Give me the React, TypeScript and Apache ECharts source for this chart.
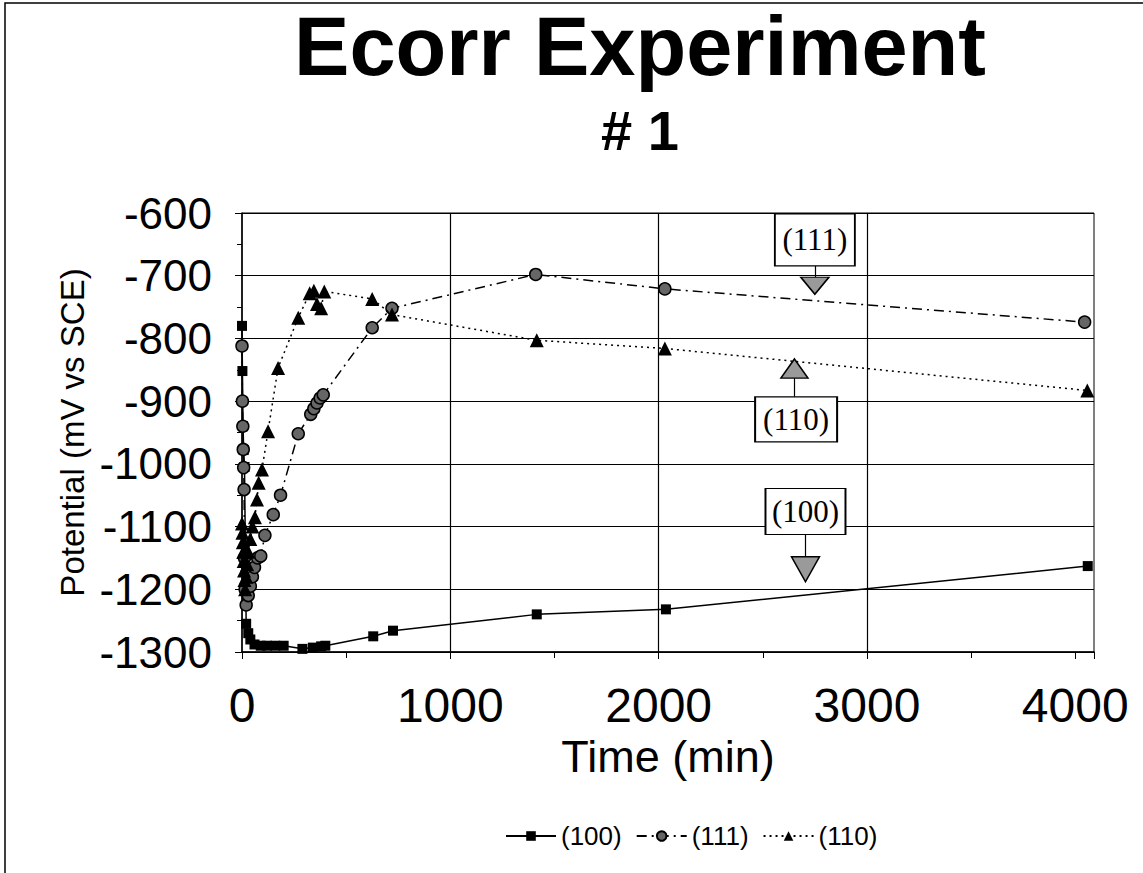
import React, { useEffect, useRef } from 'react';
import * as echarts from 'echarts';

// ---- data (time in minutes, potential in mV vs SCE) ----
const T100 = [0, 2, 5, 8, 12, 20, 30, 40, 60, 90, 120, 160, 200, 290, 340, 380, 400, 630, 725, 1415, 2035, 4060];
const V100 = [-780, -852, -940, -978, -1005, -1255, -1270, -1280, -1288, -1290, -1290, -1290, -1290, -1295, -1293, -1291, -1290, -1275, -1266, -1240, -1232, -1163];

const T111 = [0, 2, 4, 6, 8, 10, 12, 15, 20, 30, 40, 50, 60, 75, 90, 110, 150, 185, 270, 330, 345, 360, 375, 390, 625, 720, 1410, 2030, 4045];
const V111 = [-812, -900, -940, -977, -1006, -1041, -1150, -1200, -1225, -1210, -1195, -1180, -1165, -1150, -1147, -1114, -1081, -1050, -952, -921, -912, -903, -895, -890, -783, -752, -698, -721, -774];

const T110 = [0, 2, 4, 6, 8, 10, 12, 15, 20, 25, 30, 40, 50, 62, 72, 80, 96, 125, 173, 270, 325, 345, 360, 380, 395, 625, 720, 1415, 2030, 4058];
const V110 = [-1095, -1110, -1125, -1140, -1155, -1170, -1185, -1200, -1180, -1160, -1140, -1120, -1100, -1085, -1057, -1030, -1009, -948, -847, -767, -728, -724, -745, -752, -725, -737, -762, -803, -816, -883];

const SERIES_NAMES = ['(100)', '(111)', '(110)'];
const X_GRID = [1000, 2000, 3000];

// annotation anchors in data coordinates [time, potential]
const ANN_111 = { box: [2750, -643], tri: [2750, -716], line: [[2750, -684], [2750, -703]] };
const ANN_110 = { box: [2660, -929], tri: [2652, -848], line: [[2652, -862], [2652, -894]] };
const ANN_100 = { box: [2705, -1076], tri: [2705, -1168], line: [[2705, -1112], [2705, -1149]] };

const zip = (t: number[], v: number[]) => t.map((x, i) => [x, v[i]]);

const SANS = 'Liberation Sans, Arial, sans-serif';
const SERIF = 'Liberation Serif, Times New Roman, serif';

function boxPoint(coord: number[], text: string, size: number[]) {
  return {
    coord,
    symbol: 'rect',
    symbolSize: size,
    itemStyle: { color: '#fff', borderColor: '#000', borderWidth: 1.5 },
    label: { show: true, position: 'inside', formatter: text, color: '#000', fontFamily: SERIF, fontSize: 31 },
  };
}
function triPoint(coord: number[], down: boolean, size: number[]) {
  return {
    coord,
    symbol: 'triangle',
    symbolSize: size,
    symbolRotate: down ? 180 : 0,
    itemStyle: { color: '#9a9a9a', borderColor: '#000', borderWidth: 1.5 },
    label: { show: false },
  };
}

export default function App() {
  const ref = useRef<HTMLDivElement>(null);
  useEffect(() => {
    if (!ref.current) return;
    const chart = echarts.init(ref.current, null, { renderer: 'svg' });
    const annLine = (pts: number[][]) => [{ coord: pts[0] }, { coord: pts[1] }];
    chart.setOption({
      animation: false,
      backgroundColor: '#fff',
      graphic: [
        { type: 'rect', shape: { x: 5, y: 3, width: 1200, height: 900 }, style: { fill: 'none', stroke: '#000', lineWidth: 1.5 } },
        { type: 'text', x: 640, y: 46, style: { text: 'Ecorr Experiment', font: `bold 83px ${SANS}`, fill: '#000', textAlign: 'center', textVerticalAlign: 'middle' } },
        { type: 'text', x: 640, y: 130, style: { text: '# 1', font: `bold 56px ${SANS}`, fill: '#000', textAlign: 'center', textVerticalAlign: 'middle' } },
      ],
      grid: { left: 242, right: 49, top: 213, bottom: 221, show: true, borderColor: '#000', borderWidth: 1, backgroundColor: 'transparent' },
      legend: {
        data: SERIES_NAMES,
        left: 500,
        top: 818,
        itemWidth: 50,
        itemHeight: 12,
        itemGap: 14,
        textStyle: { fontFamily: SANS, fontSize: 26, color: '#000' },
      },
      xAxis: {
        type: 'value',
        min: 0,
        max: 4090,
        interval: 1000,
        name: 'Time (min)',
        nameLocation: 'middle',
        nameGap: 78,
        nameTextStyle: { fontFamily: SANS, fontSize: 45, color: '#000' },
        axisLine: { show: true, lineStyle: { color: '#000', width: 1.5 } },
        axisTick: { show: true, length: 7, lineStyle: { color: '#000' } },
        minorTick: { show: true, splitNumber: 2, length: 6, lineStyle: { color: '#000' } },
        axisLabel: {
          fontFamily: SANS, fontSize: 48, color: '#000', margin: 29,
          formatter: (v: number) => (v % 1000 === 0 ? String(v) : ''),
        },
        splitLine: { show: false },
      },
      yAxis: {
        type: 'value',
        min: -1300,
        max: -600,
        interval: 100,
        name: 'Potential (mV vs SCE)',
        nameLocation: 'middle',
        nameGap: 124,
        nameTextStyle: { fontFamily: SANS, fontSize: 33, color: '#000' },
        axisLine: { show: true, lineStyle: { color: '#000', width: 1.5 } },
        axisTick: { show: true, length: 7, lineStyle: { color: '#000' } },
        minorTick: { show: true, splitNumber: 2, length: 5, lineStyle: { color: '#000' } },
        axisLabel: { fontFamily: SANS, fontSize: 44, color: '#000', margin: 30, formatter: (v: number) => String(v) },
        splitLine: { show: true, lineStyle: { color: '#000', width: 1.2 } },
      },
      series: [
        {
          name: '(100)',
          type: 'line',
          data: zip(T100, V100),
          symbol: 'rect',
          symbolSize: 10,
          itemStyle: { color: '#000' },
          lineStyle: { color: '#000', width: 1.5, type: 'solid' },
          z: 3,
          markLine: {
            silent: true,
            symbol: 'none',
            label: { show: false },
            lineStyle: { color: '#000', width: 1.2, type: 'solid' },
            data: [
              ...X_GRID.map((x) => ({ xAxis: x })),
              annLine(ANN_100.line),
            ],
          },
          markPoint: {
            silent: true,
            data: [boxPoint(ANN_100.box, '(100)', [80, 46]), triPoint(ANN_100.tri, true, [28, 25])],
          },
        },
        {
          name: '(111)',
          type: 'line',
          data: zip(T111, V111),
          symbol: 'circle',
          symbolSize: 12,
          itemStyle: { color: '#666', borderColor: '#000', borderWidth: 1.5 },
          lineStyle: { color: '#000', width: 1.5, type: [10, 5, 2, 5] },
          z: 4,
          markLine: {
            silent: true,
            symbol: 'none',
            label: { show: false },
            lineStyle: { color: '#000', width: 1.2, type: 'solid' },
            data: [annLine(ANN_111.line)],
          },
          markPoint: {
            silent: true,
            data: [boxPoint(ANN_111.box, '(111)', [80, 52]), triPoint(ANN_111.tri, true, [28, 17])],
          },
        },
        {
          name: '(110)',
          type: 'line',
          data: zip(T110, V110),
          symbol: 'triangle',
          symbolSize: 14,
          itemStyle: { color: '#000' },
          lineStyle: { color: '#000', width: 1.5, type: [2, 4] },
          z: 5,
          markLine: {
            silent: true,
            symbol: 'none',
            label: { show: false },
            lineStyle: { color: '#000', width: 1.2, type: 'solid' },
            data: [annLine(ANN_110.line)],
          },
          markPoint: {
            silent: true,
            data: [boxPoint(ANN_110.box, '(110)', [82, 45]), triPoint(ANN_110.tri, false, [27, 19])],
          },
        },
      ],
    });
    return () => chart.dispose();
  }, []);
  return (
    <div
      ref={ref}
      style={{ position: 'absolute', left: 0, top: 0, width: 1143, height: 873 }}
    />
  );
}
